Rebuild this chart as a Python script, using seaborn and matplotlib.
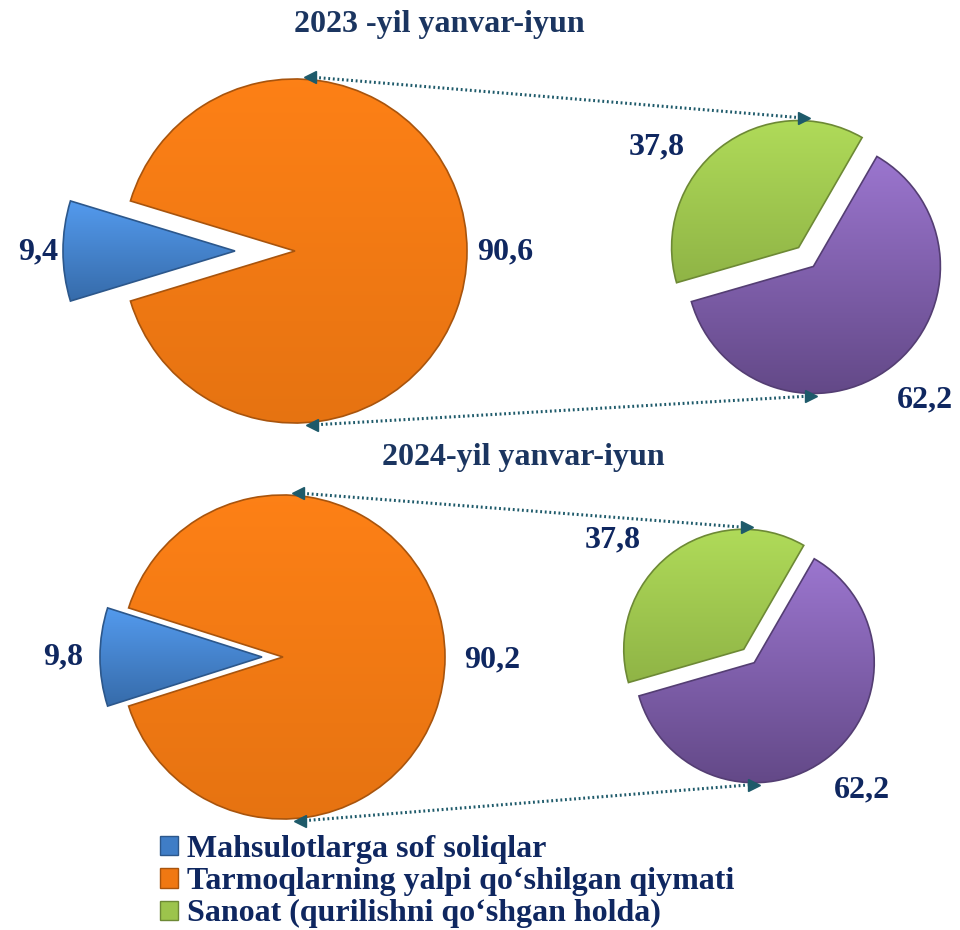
import numpy as np
import matplotlib
matplotlib.use("Agg")
import matplotlib.pyplot as plt
import matplotlib.colors as mcolors
from matplotlib.patches import Patch
import seaborn as sns

# data
years = ["2023 -yil yanvar-iyun", "2024-yil yanvar-iyun"]
main_share_2023 = [9.4, 90.6]      # soliqlar, tarmoqlar
main_share_2024 = [9.8, 90.2]
sub_share_2023 = [37.8, 62.2]      # sanoat, boshqa
sub_share_2024 = [37.8, 62.2]
legend_labels = [
    "Mahsulotlarga sof soliqlar",
    "Tarmoqlarning yalpi qo\u2018shilgan qiymati",
    "Sanoat (qurilishni qo\u2018shgan holda)",
]

BLUE = "#3F7DC6"
ORANGE = "#F07812"
GREEN = "#9CC44C"
PURPLE = "#7858A4"
NAVY = "#0F2760"
TEAL = "#1E5A6A"

sns.set_theme(style="white")
plt.rcParams["font.family"] = ["Liberation Serif", "DejaVu Serif"]
plt.rcParams["font.weight"] = "bold"

fig = plt.figure(figsize=(9.6, 9.3), dpi=100)
ax = fig.add_axes([0, 0, 1, 1])
ax.set_xlim(0, 960)
ax.set_ylim(0, 930)
ax.set_aspect("equal")
ax.axis("off")


def shade(ax, wedges, colors, strength):
    """vertical gradient clipped to each wedge, lighter on top"""
    for w, c, s in zip(wedges, colors, strength):
        rgb = np.array(mcolors.to_rgb(c))
        bb = w.get_path().get_extents(w.get_patch_transform())
        t = np.linspace(0, 1, 64)[:, None]
        top = np.clip(rgb * (1 + s) + s / 3, 0, 1)
        bot = rgb * (1 - s)
        grad = bot[None, None, :] * (1 - t[..., None]) + top[None, None, :] * t[..., None]
        grad = np.repeat(grad, 2, axis=1)
        im = ax.imshow(grad, extent=[bb.x0, bb.x1, bb.y0, bb.y1], origin="lower",
                       aspect="auto", zorder=w.get_zorder() + 0.1, interpolation="bilinear")
        im.set_clip_path(w)
        w.set_edgecolor(tuple(rgb * 0.7))
        w.set_linewidth(1.2)
        w.set_zorder(w.get_zorder() + 0.2)
        w.set_facecolor("none")


def pie_pair(main_vals, sub_vals, big_c, big_r, blue_push, small_c, small_r, small_push):
    start = 180 - main_vals[0] * 3.6 / 2
    # explode is in data units here (radius is not 1)
    w1, _ = ax.pie(main_vals, center=big_c, radius=big_r, startangle=start,
                   colors=[BLUE, ORANGE], explode=[blue_push, 0], frame=True,
                   wedgeprops=dict(linewidth=0))
    shade(ax, w1, [BLUE, ORANGE], [0.14, 0.04])
    w2, _ = ax.pie(sub_vals, center=small_c, radius=small_r, startangle=60,
                   colors=[GREEN, PURPLE], explode=[small_push, small_push], frame=True,
                   wedgeprops=dict(linewidth=0))
    shade(ax, w2, [GREEN, PURPLE], [0.08, 0.17])

    # dotted connectors with small arrow heads
    bx, by = big_c
    sx, sy = small_c
    top_l = (bx + 15, by + big_r + 2)
    top_r = (sx - 2, sy + small_r + small_push)
    bot_l = (bx + 17, by - big_r - 2)
    bot_r = (sx + 5, sy - small_r - small_push)
    for a, b in [(top_l, top_r), (bot_l, bot_r)]:
        ax.plot([a[0], b[0]], [a[1], b[1]], color=TEAL, lw=2.2,
                linestyle=(0, (0.6, 0.9)), zorder=1)
        ax.plot(a[0], a[1], marker="<", color=TEAL, ms=9, zorder=5)
        ax.plot(b[0], b[1], marker=">", color=TEAL, ms=9, zorder=5)


pie_pair(main_share_2023, sub_share_2023, (295, 679), 172, 60,
         (806, 673), 127, 12)
pie_pair(main_share_2024, sub_share_2024, (283, 273), 162, 21,
         (749, 274), 120, 8.5)
# ax.pie sets limits itself, so restore them afterwards
ax.set_xlim(0, 960)
ax.set_ylim(0, 930)
ax.axis("off")

lab = dict(color=NAVY, fontsize=23, fontweight="bold", ha="center", va="center")
ax.text(38, 678, f"{main_share_2023[0]:.1f}".replace(".", ","), **lab)
ax.text(505, 678, f"{main_share_2023[1]:.1f}".replace(".", ","), **lab)
ax.text(657, 783, f"{sub_share_2023[0]:.1f}".replace(".", ","), **lab)
ax.text(925, 530, f"{sub_share_2023[1]:.1f}".replace(".", ","), **lab)
ax.text(63, 273, f"{main_share_2024[0]:.1f}".replace(".", ","), **lab)
ax.text(492, 270, f"{main_share_2024[1]:.1f}".replace(".", ","), **lab)
ax.text(613, 390, f"{sub_share_2024[0]:.1f}".replace(".", ","), **lab)
ax.text(862, 140, f"{sub_share_2024[1]:.1f}".replace(".", ","), **lab)

ttl = dict(color="#1B3560", fontsize=23, fontweight="bold", ha="center", va="center")
ax.text(439, 905, years[0], **ttl)
ax.text(523, 472, years[1], **ttl)

handles = [Patch(facecolor=c, edgecolor=tuple(np.array(mcolors.to_rgb(c)) * 0.7))
           for c in [BLUE, ORANGE, GREEN]]
leg = fig.legend(handles, legend_labels, loc="upper left",
                 bbox_to_anchor=(160 / 960, 1 - 835 / 930),
                 frameon=False, fontsize=23, handlelength=0.55, handleheight=0.55,
                 handletextpad=0.3, labelspacing=0.1, borderaxespad=0, borderpad=0)
for t in leg.get_texts():
    t.set_color(NAVY)
    t.set_fontweight("bold")

fig.savefig("out.png", dpi=100)
